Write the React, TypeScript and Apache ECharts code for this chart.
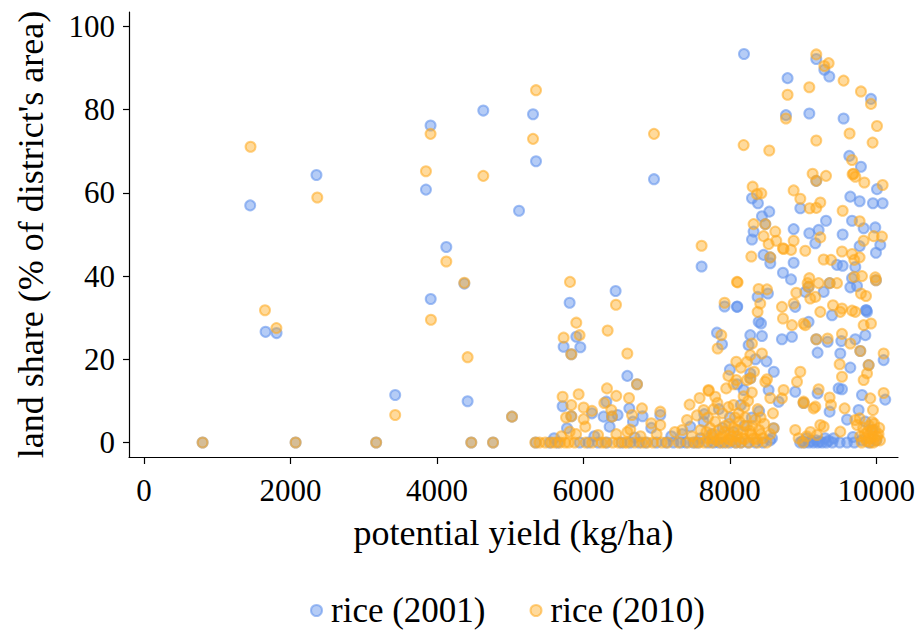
import React, { useEffect, useRef } from "react";
import * as echarts from "echarts";

const seriesNames = ["rice (2001)", "rice (2010)"];
const xTicks = [0, 2000, 4000, 6000, 8000, 10000];
const yTicks = [0, 20, 40, 60, 80, 100];

// [potential yield (kg/ha), land share (%)]
const rice2001: number[][] = [
  [800, 0], [1450, 57], [1660, 26.6], [1810, 26.3], [2070, 0], [2355, 64.3], [3170, 0], [3430, 11.4],
  [3850, 60.8], [3913, 76.2], [3915, 34.5], [4128, 47.0], [4374, 38.2], [4419, 9.9], [4469, 0], [4633, 79.8],
  [4766, 0], [5025, 6.2], [5121, 55.7], [5312, 78.9], [5353, 67.6], [5812, 33.6], [6440, 36.4], [6964, 63.3],
  [7614, 42.3], [8193, 93.4], [7928, 32.7], [8101, 32.7],
  [5730, 23.0], [5903, 25.4], [5958, 22.9], [5835, 21.2], [6600, 16.0], [6732, 14.0], [5716, 8.7], [5835, 6.3],
  [5776, 3.4], [6117, 7.0], [6313, 9.8], [6276, 6.2], [6358, 3.8], [6390, 6.2], [6467, 6.6], [6627, 8.2],
  [6677, 5.0], [6808, 6.3], [7050, 6.6], [6927, 3.5], [7460, 3.8], [7651, 6.8], [7641, 5.0],
  [5350, 0], [5540, 0], [5650, 0], [5950, 0], [6070, 0], [6200, 0], [6320, 0], [6520, 0], [6640, 0], [6760, 0],
  [6850, 0], [7000, 0], [7130, 0], [7230, 0], [7330, 0], [7400, 0], [7500, 0], [7560, 0],
  [5600, 1], [6150, 1.5], [6700, 1.2], [7200, 1.5], [7350, 2], [7600, 1],
  [9180, 92.2], [9290, 89.6], [9358, 88.0], [8788, 87.6], [9927, 82.6], [8766, 78.7], [9085, 79.1], [9553, 77.9],
  [9631, 68.9], [9790, 66.3], [9180, 62.9], [10009, 60.9], [8302, 58.7], [8384, 57.5], [8962, 56.3], [9645, 59.1],
  [9772, 58.0], [9954, 57.5], [10086, 57.5], [8538, 55.5], [8438, 54.4], [8484, 52.5], [8324, 50.7], [8302, 48.8],
  [8461, 45.1], [8552, 44.5], [8552, 43.1], [8871, 51.3], [9085, 50.3], [9212, 51.1], [9167, 47.9], [9313, 53.3],
  [9540, 50.0], [9668, 53.3], [9827, 51.5], [9986, 51.7], [9772, 47.2], [10054, 47.5], [9995, 45.6], [9713, 42.2],
  [9463, 42.7], [9540, 42.5], [8871, 43.2], [8725, 40.8], [8835, 39.2], [9075, 37.4], [9030, 36.2], [9362, 38.3],
  [9281, 36.2], [9668, 39.5], [9995, 39.0], [9645, 37.3], [9736, 37.6], [9859, 31.8], [8379, 35.0], [8520, 35.8],
  [8097, 32.6], [8893, 32.6], [9863, 31.8],
  [7824, 26.4], [7893, 23.6], [8393, 29.0], [8425, 28.6], [8279, 25.8], [8438, 25.6], [8256, 23.4], [8711, 24.8],
  [8848, 25.4], [8279, 16.6], [8279, 15.4], [8529, 12.6], [8666, 9.8], [8575, 1.0], [8598, 3.4], [8188, 12.6],
  [8893, 12.2], [9007, 9.5],
  [9075, 29.0], [9395, 30.6], [9873, 31.4], [9180, 24.8], [9198, 21.6], [9335, 24.2], [9522, 24.4], [9781, 22.0],
  [9713, 24.8], [9850, 25.8], [10100, 19.8], [9508, 21.4], [9645, 18.0], [9895, 18.6], [9804, 11.4], [10122, 10.3],
  [9485, 13.0], [9531, 12.8], [9198, 11.8], [9362, 7.4], [9758, 7.8], [9417, 1.0], [9681, 1.3],
  [8960, 0], [9020, 0], [9080, 0], [9140, 0], [9200, 0], [9260, 0], [9320, 0], [9050, 1], [9180, 0.5], [9300, 1],
  [8990, 0.3], [9110, 0.4], [9230, 0.2], [9350, 0.4], [9400, 0],
  [7700, 0], [7780, 0], [7850, 0], [7920, 0], [8000, 0], [8080, 0], [8150, 0], [8250, 0], [8350, 0], [8450, 0],
  [8550, 0.5], [7750, 2], [7900, 3.5], [8050, 2.5], [8200, 4], [8300, 6], [8400, 7.5], [8000, 6], [7850, 8],
  [8150, 9], [8100, 14], [8350, 20], [8000, 17.5], [8500, 19.5], [8600, 17],
  [9500, 0], [9600, 0], [9700, 0], [9800, 0.5], [9900, 0], [10000, 0.5], [9950, 3], [9850, 5], [9600, 5.5],
];

const rice2010: number[][] = [
  [800, 0], [1455, 71.1], [1652, 31.8], [1808, 27.5], [2070, 0], [2366, 58.9], [3170, 0], [3430, 6.6],
  [3850, 65.2], [3913, 74.2], [3918, 29.5], [4128, 43.5], [4374, 38.4], [4419, 20.5], [4469, 0], [4633, 64.1],
  [4766, 0], [5025, 6.2], [5312, 73.0], [5353, 84.7], [5817, 38.6], [6445, 33.1], [6964, 74.2], [7614, 47.3],
  [8188, 71.5], [8538, 70.2], [8097, 38.6], [7928, 33.6],
  [5903, 28.8], [5730, 25.2], [5948, 25.8], [6331, 26.9], [6600, 21.4], [6732, 14.0], [5835, 21.2], [5716, 11.0],
  [5935, 11.6], [5835, 9.0], [5835, 6.3], [5763, 6.0], [6003, 8.4], [6003, 5.6], [5812, 2.6], [6026, 3.8],
  [6117, 7.6], [6322, 13.0], [6449, 11.2], [6285, 9.5], [6381, 7.8], [6390, 6.2], [6623, 10.7], [6664, 6.6],
  [6640, 3.1], [6800, 8.2], [7050, 7.4], [6927, 4.6], [7050, 4.2], [7415, 5.4], [7450, 9.1], [7587, 10.7],
  [7710, 12.4], [7641, 7.8],
  [5343, 0], [5400, 0], [5480, 0], [5560, 0], [5616, 0], [5680, 0], [5750, 0], [5800, 0], [5880, 0], [6030, 0],
  [6120, 0], [6250, 0], [6300, 0], [6400, 0], [6480, 0], [6560, 0], [6600, 0], [6700, 0], [6800, 0], [6870, 0],
  [6950, 0], [7070, 0], [7150, 0], [7300, 0], [7430, 0], [7520, 0], [7580, 0],
  [5700, 1.5], [5900, 2], [6200, 1.8], [6450, 2], [6600, 2.5], [6780, 1.5], [7000, 2], [7250, 2.5], [7350, 3],
  [7480, 1.5],
  [9180, 93.3], [9349, 91.2], [9290, 90.5], [8788, 83.6], [9085, 85.4], [9553, 87.0], [9790, 84.4], [9927, 81.4],
  [8766, 77.9], [10009, 76.1], [9635, 74.3], [9949, 72.1], [9180, 72.6], [9668, 67.9], [9690, 64.6], [9130, 64.6],
  [9313, 64.1], [9180, 62.9], [9676, 64.5], [9713, 63.9], [9836, 62.5], [10086, 61.9], [8311, 61.5], [8430, 59.9],
  [8370, 59.7], [8871, 60.6], [8962, 58.6], [9089, 56.3], [9180, 56.4], [9235, 57.7], [9540, 55.7], [8324, 52.5],
  [8484, 52.5], [8461, 49.6], [8620, 50.7], [8634, 48.5], [8529, 47.7], [8725, 46.7], [8552, 44.5], [8293, 44.7],
  [8871, 48.5], [8835, 46.3], [9030, 46.1], [9235, 49.3], [9772, 53.2], [9963, 49.6], [10077, 49.5], [9827, 48.5],
  [9531, 45.9], [9668, 45.3], [9772, 44.5], [9699, 43.9], [9281, 44.0], [9381, 43.9], [8734, 46.5],
  [8106, 38.5], [9085, 39.5], [9062, 38.3], [9075, 37.4], [9212, 38.3], [9362, 38.3], [9463, 38.3], [8907, 36.0],
  [9699, 39.8], [9804, 40.0], [9986, 39.7], [9995, 39.0], [9790, 35.8], [9859, 35.2], [8393, 36.9], [8507, 36.8],
  [8415, 33.4], [8711, 32.6], [8871, 33.4], [9098, 34.6], [9167, 35.0], [9408, 33.0], [9531, 32.2], [9668, 31.7],
  [7883, 25.8], [7833, 22.6], [8379, 31.4], [8302, 23.8], [8438, 21.4], [8279, 21.0], [8088, 19.4], [8234, 19.4],
  [8725, 29.8], [8848, 28.2], [9007, 28.6], [8088, 15.0], [8234, 15.0], [8279, 15.4], [8507, 15.2], [8484, 14.6],
  [8552, 10.7], [8734, 12.6], [8711, 10.6], [8589, 7.0], [8598, 3.4], [7710, 12.6], [8188, 11.1], [8962, 17.0],
  [8917, 14.6], [9007, 9.5], [8893, 3.0], [8939, 1.0],
  [9030, 28.2], [9235, 31.4], [9508, 31.4], [9713, 31.4], [9180, 24.8], [9335, 25.0], [9531, 26.1], [9645, 23.8],
  [9781, 22.0], [9827, 28.2], [9927, 28.6], [10100, 21.4], [9499, 18.8], [9531, 15.8], [9895, 18.6], [9873, 16.6],
  [9827, 15.0], [9918, 10.6], [10100, 11.9], [9212, 12.8], [9362, 10.8], [9381, 9.0], [9567, 8.2], [9954, 7.8],
  [9941, 5.0], [9167, 8.6], [9144, 8.2], [9007, 9.8], [9235, 4.2], [9281, 3.8], [9190, 1.8], [9508, 2.6],
  [9713, 5.4], [9736, 4.2], [9772, 5.8],
  [9800, 0], [9850, 1], [9880, 2.5], [9920, 0], [9950, 1.5], [9980, 3], [10000, 0.5], [10030, 2], [9820, 3.5],
  [9900, 4], [9960, 0], [10050, 0.5], [9780, 1.5], [9840, 2], [9910, 1], [9970, 4.5], [10010, 1.5], [9870, 0.3],
  [9930, 2.8], [10040, 3.5],
  [7650, 0], [7700, 1], [7750, 0], [7780, 2], [7820, 0.5], [7850, 3], [7880, 0], [7900, 1.5], [7940, 4], [7960, 0],
  [8000, 2], [8020, 0.5], [8050, 3.5], [8080, 0], [8100, 1.5], [8130, 5], [8150, 0], [8180, 2.5], [8200, 0.8],
  [8230, 4], [8260, 0], [8290, 2], [8320, 1], [8350, 5.5], [8380, 0], [8400, 3], [8450, 1], [8500, 0], [8550, 2],
  [7700, 6], [7780, 8], [7830, 9.5], [7900, 7], [7980, 8.5], [8050, 9], [8120, 7], [8200, 8.5], [8250, 10],
  [8300, 12], [8380, 8], [8420, 6], [7800, 11], [7950, 13], [8050, 14], [7600, 3], [7550, 6.5], [8150, 18],
  [7980, 16], [8330, 17], [9000, 0], [9050, 1.5], [9100, 2.5],
  [7730, 3.5], [7800, 5], [7870, 1], [7930, 2.5], [7990, 4.5], [8030, 1.5], [8070, 6], [8110, 3], [8170, 1],
  [8210, 6], [8270, 2.8], [8310, 4], [8360, 0.8], [8420, 2], [8470, 4.5], [7680, 2.5], [7760, 1], [7990, 0.8],
];

const FONT = "'Liberation Serif', 'Times New Roman', serif";

export default function App() {
  const ref = useRef<HTMLDivElement>(null);
  useEffect(() => {
    if (!ref.current) return;
    const chart = echarts.init(ref.current, undefined, { renderer: "svg" });
    const axisCommon = {
      type: "value" as const,
      splitLine: { show: false },
      axisLine: { show: true, onZero: false, lineStyle: { color: "#000", width: 1.2 } },
    };
    chart.setOption({
      animation: false,
      backgroundColor: "#fff",
      textStyle: { fontFamily: FONT },
      grid: { left: 129, right: 24, top: 12, bottom: 180, containLabel: false },
      legend: {
        data: seriesNames,
        left: 305,
        top: 588,
        icon: "circle",
        itemWidth: 11,
        itemHeight: 11,
        itemGap: 44,
        textStyle: { fontFamily: FONT, fontSize: 35, color: "#000", padding: [0, 0, 0, 4] },
      },
      xAxis: {
        ...axisCommon,
        min: -205,
        max: 10296,
        name: "potential yield (kg/ha)",
        nameLocation: "middle",
        nameGap: 58,
        nameTextStyle: { fontFamily: FONT, fontSize: 36, color: "#000" },
        axisTick: { show: true, length: 7, customValues: xTicks, lineStyle: { color: "#000", width: 1.2 } },
        axisLabel: {
          customValues: xTicks,
          formatter: (v: number) => String(v),
          fontFamily: FONT,
          fontSize: 31,
          color: "#000",
          margin: 18,
        },
      },
      yAxis: {
        ...axisCommon,
        min: -3.5,
        max: 103.5,
        name: "land share (% of district's area)",
        nameLocation: "middle",
        nameGap: 80,
        nameTextStyle: { fontFamily: FONT, fontSize: 36, color: "#000" },
        axisTick: { show: true, length: 6, customValues: yTicks, lineStyle: { color: "#000", width: 1.2 } },
        axisLabel: {
          customValues: yTicks,
          formatter: (v: number) => String(v),
          fontFamily: FONT,
          fontSize: 31,
          color: "#000",
          margin: 14,
        },
      },
      series: [
        {
          name: seriesNames[0],
          type: "scatter",
          data: rice2001,
          symbol: "circle",
          symbolSize: 10,
          itemStyle: { color: "rgba(100,149,237,0.6)", borderColor: "rgba(100,149,237,0.75)", borderWidth: 2 },
        },
        {
          name: seriesNames[1],
          type: "scatter",
          data: rice2010,
          symbol: "circle",
          symbolSize: 10,
          itemStyle: { color: "rgba(255,170,30,0.55)", borderColor: "rgba(255,170,30,0.7)", borderWidth: 2 },
        },
      ],
    });
    return () => chart.dispose();
  }, []);
  return <div ref={ref} style={{ width: 922, height: 637, position: "absolute", left: 0, top: 0 }} />;
}
